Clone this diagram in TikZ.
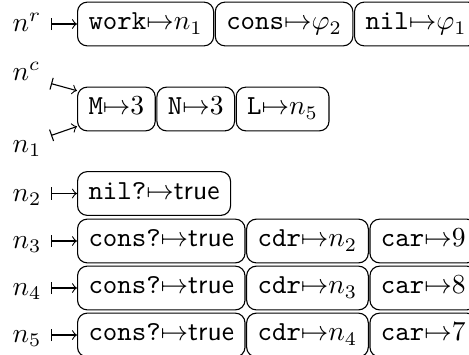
\documentclass[tikz,border=0pt]{standalone}
\usetikzlibrary{arrows.meta,positioning}
\begin{document}
\begin{tikzpicture}[x=0.36364pt,y=-0.36364pt,
  box/.style={draw, rounded corners=3.5pt, inner xsep=4pt, inner ysep=3.9pt,
    text height=6.2pt, text depth=1.9pt, anchor=west},
  lab/.style={inner sep=0pt, anchor=base west, text width=13.8pt, align=left},
  maps/.style={{Bar[width=4.4pt]}-{to}},
  gap/.style={right=0.2pt of #1}]
\useasboundingbox (0,0) rectangle (469,354);
% row r
\node[lab] (lr) at (12,31.5) {$n^r$};
\node[box] (w) at (77,24) {$\texttt{work}{\mapsto}n_1$};
\node[box,gap=w] (cs) {$\texttt{cons}{\mapsto}\varphi_2$};
\node[box,gap=cs] (nl) {$\texttt{nil}{\mapsto}\varphi_1$};
\draw[maps] (lr.east |- w.west) -- (w.west);
% row c
\node[lab] (lc) at (12,80) {$n^c$};
\node[lab] (lo) at (12,152) {$n_1$};
\node[box] (m) at (77,109) {$\texttt{M}{\mapsto}3$};
\node[box,gap=m] (n) {$\texttt{N}{\mapsto}3$};
\node[box,gap=n] (l) {$\texttt{L}{\mapsto}n_5$};
\draw[maps] ([yshift=-1.1pt]lc.south east) -- ([yshift=-1.5pt]m.north west);
\draw[maps] ([yshift=1.5pt]lo.north east) -- ([yshift=1.8pt]m.south west);
% row 2
\node[lab] (l2) at (12,201) {$n_2$};
\node[box] (a2) at (77,193.5) {$\texttt{nil?}{\mapsto}\textsf{true}$};
\draw[maps] (l2.east |- a2.west) -- (a2.west);
% row 3
\node[lab] (l3) at (12,248.5) {$n_3$};
\node[box] (a3) at (77,241) {$\texttt{cons?}{\mapsto}\textsf{true}$};
\node[box,gap=a3] (b3) {$\texttt{cdr}{\mapsto}n_2$};
\node[box,gap=b3] (c3) {$\texttt{car}{\mapsto}9$};
\draw[maps] (l3.east |- a3.west) -- (a3.west);
% row 4
\node[lab] (l4) at (12,295.5) {$n_4$};
\node[box] (a4) at (77,288) {$\texttt{cons?}{\mapsto}\textsf{true}$};
\node[box,gap=a4] (b4) {$\texttt{cdr}{\mapsto}n_3$};
\node[box,gap=b4] (c4) {$\texttt{car}{\mapsto}8$};
\draw[maps] (l4.east |- a4.west) -- (a4.west);
% row 5
\node[lab] (l5) at (12,342.5) {$n_5$};
\node[box] (a5) at (77,335) {$\texttt{cons?}{\mapsto}\textsf{true}$};
\node[box,gap=a5] (b5) {$\texttt{cdr}{\mapsto}n_4$};
\node[box,gap=b5] (c5) {$\texttt{car}{\mapsto}7$};
\draw[maps] (l5.east |- a5.west) -- (a5.west);
\end{tikzpicture}
\end{document}
